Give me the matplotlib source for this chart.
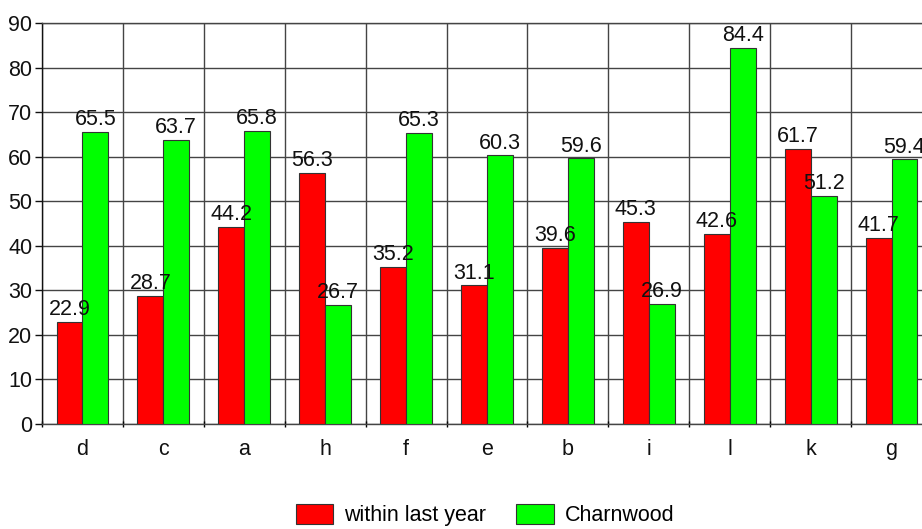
import matplotlib
matplotlib.use("Agg")
import matplotlib.pyplot as plt
import numpy as np
from matplotlib.patches import Patch

categories = ["d", "c", "a", "h", "f", "e", "b", "i", "l", "k", "g"]
within_last_year = [22.9, 28.7, 44.2, 56.3, 35.2, 31.1, 39.6, 45.3, 42.6, 61.7, 41.7]
charnwood = [65.5, 63.7, 65.8, 26.7, 65.3, 60.3, 59.6, 26.9, 84.4, 51.2, 59.4]
series_names = ["within last year", "Charnwood"]
colors = ["#ff0000", "#00ff00"]

plt.rcParams['font.family'] = ['Liberation Sans', 'DejaVu Sans']
FS = 15.5

fig = plt.figure(figsize=(9.22, 5.29), dpi=100)
ax = fig.add_axes([42/922, 105/529, 890/922, 401/529])

x = np.arange(len(categories))
w = 0.32
b1 = ax.bar(x - w/2, within_last_year, w, color=colors[0], edgecolor="#333333", linewidth=0.8, zorder=3)
b2 = ax.bar(x + w/2, charnwood, w, color=colors[1], edgecolor="#333333", linewidth=0.8, zorder=3)

for bars, vals in ((b1, within_last_year), (b2, charnwood)):
    for r, v in zip(bars, vals):
        ax.text(r.get_x() + r.get_width()/2, v + 0.4, f"{v:.1f}", ha="center", va="bottom",
                fontsize=FS, color="#111111", zorder=4)

ax.set_xlim(-0.5, len(categories) - 0.5)
ax.set_ylim(0, 90)
ax.set_yticks(np.arange(0, 91, 10))
ax.tick_params(axis="y", labelsize=FS, length=5, width=1, pad=2, colors="#111111")

ax.set_xticks(np.arange(-0.5, len(categories), 1.0))
ax.set_xticklabels([])
ax.tick_params(axis="x", which="major", length=5, width=1, direction="inout")
ax.set_xticks(x, minor=True)
ax.set_xticklabels(categories, minor=True)
ax.tick_params(axis="x", which="minor", length=0, labelsize=FS, pad=11, colors="#111111")

ax.grid(True, which="major", color="#444444", linewidth=1, zorder=0)
ax.set_axisbelow(True)
for s in ax.spines.values():
    s.set_color("#444444")
    s.set_linewidth(1)
ax.spines["left"].set_color("#111111")

handles = [Patch(facecolor=colors[0], edgecolor="#333333", linewidth=0.8),
           Patch(facecolor=colors[1], edgecolor="#333333", linewidth=0.8)]
fig.legend(handles, series_names, loc="center", bbox_to_anchor=(485/922, 1 - 515/529),
           ncol=2, frameon=False, fontsize=FS, handlelength=1.75, handleheight=1.05,
           columnspacing=1.4, handletextpad=0.5)

fig.savefig("out.png", dpi=100)
